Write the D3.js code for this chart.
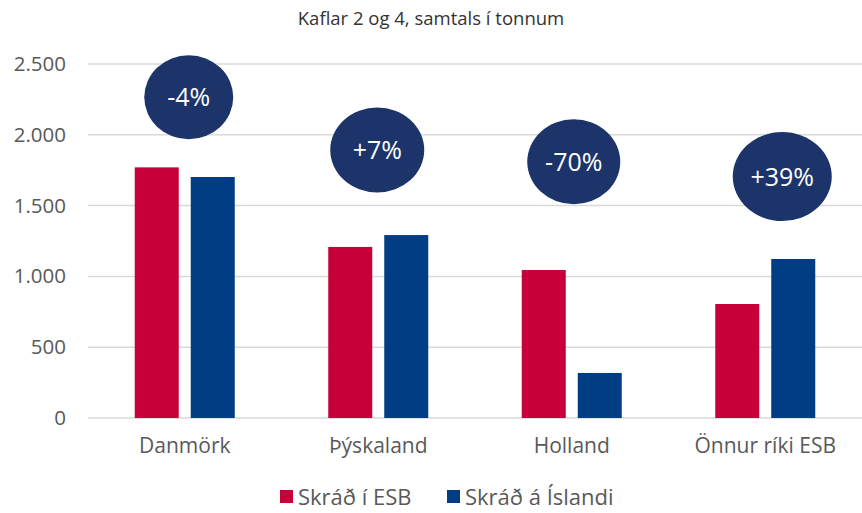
<!DOCTYPE html>
<html>
<head>
<meta charset="utf-8">
<script src="https://cdn.jsdelivr.net/npm/d3@7"></script>
<style>
  body { margin: 0; background: #fff; }
  text { font-family: "Open Sans", "Noto Sans", sans-serif; }
</style>
</head>
<body>
<div id="chart"></div>
<script>
//chart data
var categories = ["Danmörk", "Þýskaland", "Holland", "Önnur ríki ESB"];
var seriesNames = ["Skráð í ESB", "Skráð á Íslandi"];
var esbValues = [1770, 1208, 1045, 805];
var islandValues = [1702, 1292, 318, 1123];
var changeLabels = ["-4%", "+7%", "-70%", "+39%"];
var badgeLevels = [2265, 1893, 1810, 1705];   // badge centre, in tonnes
var yTicks = [0, 500, 1000, 1500, 2000, 2500];

var colors = ["#c8003a", "#003d84"];

//dimensions
var W = 862, H = 513;
var margin = {top: 64, right: 0, bottom: 95, left: 88};
var width = W - margin.left - margin.right;
var height = H - margin.top - margin.bottom;

var svg = d3.select("#chart").append("svg")
    .attr("width", W)
    .attr("height", H);

var g = svg.append("g")
    .attr("transform", "translate(" + margin.left + "," + margin.top + ")");

//scales
var x = d3.scaleBand()
    .domain(categories)
    .range([0, width]);

var xSub = d3.scaleBand()
    .domain(seriesNames)
    .range([-50, 50])
    .paddingInner(0.2143);

var y = d3.scaleLinear()
    .domain([0, 2500])
    .range([height, 0]);

//grid lines
g.append("g")
    .selectAll("line")
    .data(yTicks)
    .enter().append("line")
    .attr("x1", 0)
    .attr("x2", width)
    .attr("y1", d => y(d))
    .attr("y2", d => y(d))
    .style("stroke", "#d9d9d9")
    .style("stroke-width", 1.5);

//y axis
var yAxis = g.append("g")
    .attr("transform", "translate(-22,0)")
    .call(d3.axisLeft(y).tickValues(yTicks).tickSize(0)
        .tickFormat(d => d3.format(",")(d).replace(/,/g, ".")));
yAxis.select(".domain").remove();
yAxis.selectAll("text")
    .attr("x", 0)
    .style("font-size", "20.5px")
    .style("fill", "#595959")
    .style("font-family", "'Open Sans', sans-serif");

//x axis labels
var xAxis = g.append("g")
    .attr("transform", "translate(0," + height + ")")
    .call(d3.axisBottom(x).tickSize(0).tickPadding(20));
xAxis.select(".domain").remove();
xAxis.selectAll("text")
    .style("font-size", "21px")
    .style("fill", "#595959")
    .style("font-family", "'Open Sans', sans-serif");

//bars
var rows = categories.map((c, i) => ({cat: c, vals: [esbValues[i], islandValues[i]]}));

var groups = g.append("g")
    .selectAll("g")
    .data(rows)
    .enter().append("g")
    .attr("transform", d => "translate(" + (x(d.cat) + x.bandwidth() / 2) + ",0)");

groups.selectAll("rect")
    .data(d => d.vals.map((v, j) => ({name: seriesNames[j], value: v, j: j})))
    .enter().append("rect")
    .attr("x", d => xSub(d.name))
    .attr("width", xSub.bandwidth())
    .attr("y", d => y(d.value))
    .attr("height", d => height - y(d.value))
    .style("fill", d => colors[d.j]);

//change badges
var badgeDx = [4, -1, 2, 17];
var badgeRx = [44.5, 47, 46.5, 49.5];
var badgeRy = [42, 42.5, 42.5, 44.5];
var badges = g.append("g")
    .selectAll("g")
    .data(categories)
    .enter().append("g")
    .attr("transform", (d, i) => "translate(" + (x(d) + x.bandwidth() / 2 + badgeDx[i]) + "," + y(badgeLevels[i]) + ")");

badges.append("ellipse")
    .attr("rx", (d, i) => badgeRx[i])
    .attr("ry", (d, i) => badgeRy[i])
    .style("fill", "#1c346a");

badges.append("text")
    .attr("text-anchor", "middle")
    .attr("dy", "0.36em")
    .style("font-size", "25px")
    .style("fill", "#fff")
    .text((d, i) => changeLabels[i]);

//title
svg.append("text")
    .attr("x", W / 2)
    .attr("y", 25)
    .attr("text-anchor", "middle")
    .style("font-size", "18.5px")
    .style("fill", "#333")
    .text("Kaflar 2 og 4, samtals í tonnum");

//legend
var legendX = [280, 447];
var legend = svg.append("g")
    .selectAll("g")
    .data(seriesNames)
    .enter().append("g")
    .attr("transform", (d, i) => "translate(" + legendX[i] + ",497)");

legend.append("rect")
    .attr("x", 0)
    .attr("y", -7)
    .attr("width", 13)
    .attr("height", 13)
    .style("fill", (d, i) => colors[i]);

legend.append("text")
    .attr("x", 18)
    .attr("dy", "0.35em")
    .style("font-size", "22px")
    .style("fill", "#595959")
    .text(d => d);
</script>
</body>
</html>
